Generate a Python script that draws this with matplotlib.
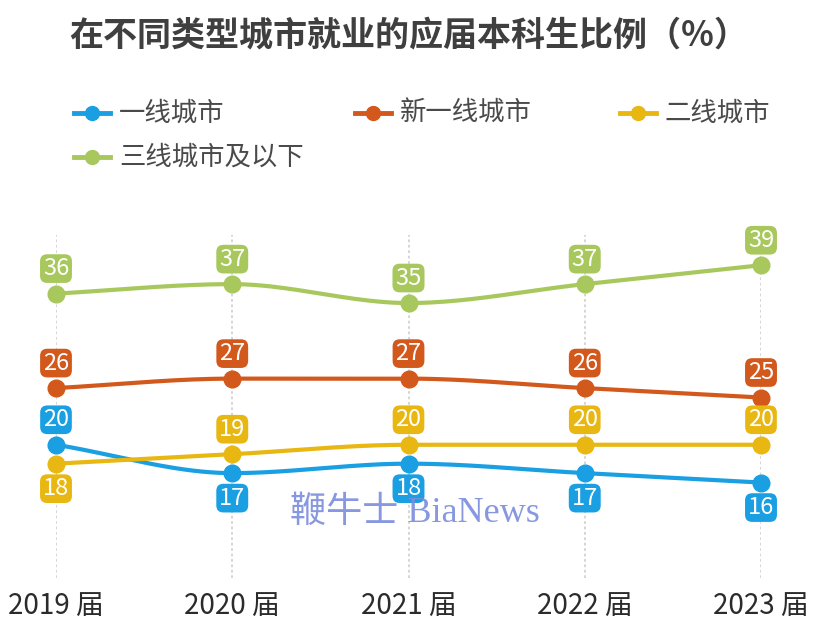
import numpy as np
import matplotlib
matplotlib.use("Agg")
import matplotlib.pyplot as plt
from matplotlib.lines import Line2D

plt.rcParams['font.family'] = ['Noto Sans CJK SC', 'DejaVu Sans']

# ---- data ----
years = ["2019 届", "2020 届", "2021 届", "2022 届", "2023 届"]
series_names = ["一线城市", "新一线城市", "二线城市", "三线城市及以下"]
tier1 = [20, 17, 18, 17, 16]
new_tier1 = [26, 27, 27, 26, 25]
tier2 = [18, 19, 20, 20, 20]
tier3 = [36, 37, 35, 37, 39]
title = "在不同类型城市就业的应届本科生比例（%）"
watermark = "鞭牛士 BiaNews"

colors = ["#199fe2", "#d3581b", "#e8b712", "#a8c85e"]
values = [tier1, new_tier1, tier2, tier3]
# label placement: +1 above point, -1 below point
label_side = [
    [1, -1, -1, -1, -1],
    [1, 1, 1, 1, 1],
    [-1, 1, 1, 1, 1],
    [1, 1, 1, 1, 1],
]


def pchip(x, y, n=40):
    x = np.asarray(x, float)
    y = np.asarray(y, float)
    h = np.diff(x)
    d = np.diff(y) / h
    m = np.zeros_like(y)
    m[0], m[-1] = d[0], d[-1]
    for i in range(1, len(y) - 1):
        if d[i - 1] * d[i] > 0:
            w1 = 2 * h[i] + h[i - 1]
            w2 = h[i] + 2 * h[i - 1]
            m[i] = (w1 + w2) / (w1 / d[i - 1] + w2 / d[i])
        else:
            m[i] = 0.0
    xs, ys = [], []
    for i in range(len(x) - 1):
        t = np.linspace(0, 1, n, endpoint=(i == len(x) - 2))
        h00 = 2 * t**3 - 3 * t**2 + 1
        h10 = t**3 - 2 * t**2 + t
        h01 = -2 * t**3 + 3 * t**2
        h11 = t**3 - t**2
        xs.append(x[i] + t * h[i])
        ys.append(h00 * y[i] + h10 * h[i] * m[i] + h01 * y[i + 1] + h11 * h[i] * m[i + 1])
    return np.concatenate(xs), np.concatenate(ys)


W, H = 831, 643
fig = plt.figure(figsize=(W / 100, H / 100), dpi=100)
fig.patch.set_facecolor("white")

ax = fig.add_axes([56 / W, 1 - 578 / H, (761 - 56) / W, (578 - 235) / H])
ax.set_xlim(0, 4)
ax.set_ylim(5.9, 42.2)
for s in ax.spines.values():
    s.set_visible(False)
ax.set_yticks([])
x = np.arange(len(years))
ax.set_xticks(x)
ax.set_xticklabels(years, fontsize=20, color="#2b2b2b")
ax.tick_params(axis="x", length=0, pad=9)
for xi in x:
    ax.axvline(xi, color="#d2d2d2", lw=1.3, ls=(0, (1.5, 1.5)), zorder=0)

for vals, col, sides in zip(values, colors, label_side):
    sx, sy = pchip(x, vals)
    ax.plot(sx, sy, color=col, lw=3, solid_capstyle="round", zorder=3, clip_on=False)
    ax.plot(x, vals, "o", color=col, ms=12, zorder=4, clip_on=False)
    for xi, v, sd in zip(x, vals, sides):
        ax.annotate(str(v), (xi, v), xytext=(0, 18 * sd), textcoords="offset points",
                    ha="center", va="center", fontsize=17, color="white", zorder=5,
                    bbox=dict(boxstyle="round,pad=0.12,rounding_size=0.3", fc=col, ec="none"),
                    annotation_clip=False)

# title
fig.text(409 / W, 1 - 35 / H, title, ha="center", va="center", fontsize=24.5,
         fontweight="bold", color="#3f3f3f")

# legend (manual)
leg_pos = [(92, 113), (373, 113), (638, 113), (92, 157)]
for (px, py), name, col in zip(leg_pos, series_names, colors):
    yy = 1 - py / H
    fig.add_artist(Line2D([(px - 18) / W, (px + 18) / W], [yy, yy], color=col, lw=3.5,
                          transform=fig.transFigure))
    fig.add_artist(Line2D([px / W], [yy], marker="o", ms=10, color=col,
                          transform=fig.transFigure))
    fig.text((px + 27) / W, yy, name, ha="left", va="center", fontsize=19, color="#4a4a4a")

# watermark
fig.text(415 / W, 1 - 513 / H, watermark, ha="center", va="center", fontsize=26,
         color="#7a8ddd", alpha=0.9, family=["Liberation Serif", "Noto Sans CJK SC"],
         zorder=10)

fig.savefig("out.png", dpi=100, facecolor="white")
